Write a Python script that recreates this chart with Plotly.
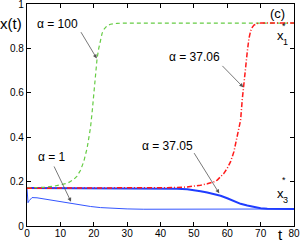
import plotly.graph_objects as go

# alpha = 100 (green dashed)
t_a100 = [0, 2, 5, 8, 10, 12, 13, 14, 15, 16, 17, 18, 18.5, 19, 19.5, 20, 20.5, 21, 21.5, 22, 22.5, 23, 24, 25, 27, 30, 80]
x_a100 = [0.172, 0.172, 0.174, 0.179, 0.184, 0.192, 0.2, 0.21, 0.225, 0.25, 0.29, 0.35, 0.395, 0.44, 0.51, 0.59, 0.68, 0.755, 0.80, 0.84, 0.868, 0.885, 0.902, 0.909, 0.913, 0.914, 0.914]

# alpha = 37.06 (red dash-dot)
t_a3706 = [0, 20, 40, 45, 48, 50, 52, 54, 56, 57, 58, 59, 60, 61, 62, 63, 64, 64.5, 65, 65.5, 66, 66.5, 67, 67.5, 68, 69, 70, 80]
x_a3706 = [0.17, 0.17, 0.171, 0.173, 0.176, 0.179, 0.184, 0.19, 0.199, 0.207, 0.22, 0.237, 0.26, 0.29, 0.335, 0.40, 0.477, 0.57, 0.65, 0.72, 0.785, 0.845, 0.878, 0.895, 0.905, 0.912, 0.914, 0.915]

# alpha = 37.05 (blue thick)
t_a3705 = [0, 20, 40, 45, 48, 50, 52, 54, 56, 58, 60, 62, 64, 66, 68, 70, 72, 74, 76, 80]
x_a3705 = [0.171, 0.171, 0.170, 0.168, 0.165, 0.162, 0.157, 0.151, 0.144, 0.136, 0.125, 0.112, 0.1, 0.092, 0.085, 0.08, 0.078, 0.077, 0.0765, 0.0765]

# alpha = 1 (blue thin)
t_a1 = [0, 0.3, 0.7, 1.5, 3, 5, 8, 10, 13, 16, 19, 22, 25, 30, 35, 40, 50, 60, 70, 80]
x_a1 = [0.17, 0.105, 0.115, 0.128, 0.127, 0.122, 0.114, 0.109, 0.102, 0.095, 0.088, 0.083, 0.08, 0.077, 0.0755, 0.0752, 0.0755, 0.076, 0.0765, 0.0765]

x_ticks = [0, 10, 20, 30, 40, 50, 60, 70, 80]
y_ticks = [0, 0.2, 0.4, 0.6, 0.8, 1]
y_tick_text = ["0", "0.2", "0.4", "0.6", "0.8", "1"]

FONT = "Liberation Sans, Arial, sans-serif"

fig = go.Figure()
fig.add_trace(go.Scatter(x=t_a1, y=x_a1, mode="lines", line=dict(color="#3355ff", width=1)))
fig.add_trace(go.Scatter(x=t_a3705, y=x_a3705, mode="lines", line=dict(color="#1f3cff", width=2)))
fig.add_trace(go.Scatter(x=t_a100, y=x_a100, mode="lines", line=dict(color="#66cc44", width=1.2, dash="4px,3px")))
fig.add_trace(go.Scatter(x=t_a3706, y=x_a3706, mode="lines", line=dict(color="#ff1a1a", width=1.5, dash="5px,2px,1px,2px")))

axis_common = dict(showgrid=False, zeroline=False, showline=True, linecolor="black", linewidth=1.3,
                   mirror="allticks", ticks="inside", ticklen=4, tickcolor="black", automargin=False,
                   ticklabeloverflow="allow",
                   tickfont=dict(family=FONT, size=10, color="black"))
fig.update_xaxes(range=[0, 80], tickvals=x_ticks, ticklabelstandoff=-2, **axis_common)
fig.update_yaxes(range=[0, 1.0001], tickvals=y_ticks, ticktext=y_tick_text, **axis_common)

annotations = []
def txt(x, y, s, size=12, xref="x", yref="y"):
    annotations.append(dict(x=x, y=y, xref=xref, yref=yref, text=s, showarrow=False,
                            font=dict(family=FONT, size=size, color="black"),
                            xanchor="center", yanchor="middle"))

def arrow(tx, ty, hx, hy):
    annotations.append(dict(x=hx, y=hy, ax=tx, ay=ty, xref="x", yref="y", axref="x", ayref="y",
                            text="", showarrow=True, arrowhead=2, arrowsize=1, arrowwidth=0.8,
                            arrowcolor="#555555", standoff=0, startstandoff=0))

txt(9.1, 0.91, "α = 100")
arrow(15.9, 0.88, 20.9, 0.755)
txt(50.3, 0.763, "α = 37.06")
arrow(58.1, 0.728, 64.8, 0.625)
txt(7.6, 0.309, "α = 1")
arrow(7.9, 0.275, 13.2, 0.109)
txt(42.2, 0.362, "α = 37.05")
arrow(49.8, 0.335, 57.6, 0.147)
txt(75.2, 0.957, "(c)", size=13)
txt(76.1, 0.86, "x", size=13)
txt(77.6, 0.83, "1", size=9)
txt(77.0, 0.90, "*", size=9)
txt(76.1, 0.147, "x", size=13)
txt(77.6, 0.117, "3", size=9)
txt(77.0, 0.205, "*", size=9)

pw, ph = 300 - 27 - 6, 242 - 4 - 16
annotations.append(dict(x=(280 - 27) / pw, y=(226 - 234) / ph, xref="paper", yref="paper", text="t",
                        showarrow=False, font=dict(family=FONT, size=15, color="black"),
                        xanchor="center", yanchor="middle"))
annotations.append(dict(x=(10.5 - 27) / pw, y=(226 - 24) / ph, xref="paper", yref="paper", text="x(t)",
                        showarrow=False, font=dict(family=FONT, size=15, color="black"),
                        xanchor="center", yanchor="middle"))

fig.update_layout(
    width=300, height=242,
    margin=dict(l=27, r=6, t=4, b=16, autoexpand=False),
    paper_bgcolor="white", plot_bgcolor="white",
    showlegend=False,
    annotations=annotations,
)

fig.write_html("out.html", config={"displayModeBar": False},
               post_script="document.body.style.margin='0px';document.body.style.overflow='hidden';")
